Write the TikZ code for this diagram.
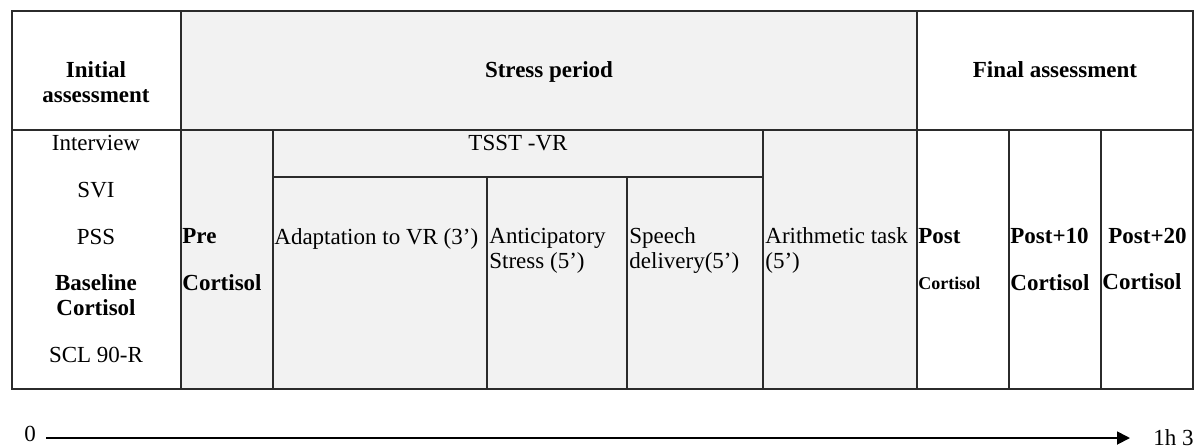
\documentclass[tikz,border=0pt]{standalone}
\usepackage{fontspec}
\setmainfont{Liberation Serif}
\usetikzlibrary{arrows.meta}
\definecolor{stressgray}{HTML}{F2F2F2}
\definecolor{gridline}{HTML}{2B2B2B}

\begin{document}
\fontsize{11.5}{12.5}\selectfont
\begin{tikzpicture}[x=0.5pt, y=-0.5pt,
  txt/.style={inner sep=0pt, anchor=base west, align=left},
  ctr/.style={inner sep=0pt, anchor=base, align=center},
  bold/.style={font=\bfseries},
  rule/.style={draw=gridline, line width=0.55pt}]
  \useasboundingbox[fill=white] (0,0) rectangle (1194,447);
  % stress period shading
  \fill[stressgray] (181,11) rectangle (917,389);
  % table rules
  \draw[rule] (12,11) rectangle (1193,389);
  \draw[rule] (12,130) -- (1193,130);
  \draw[rule] (181,11) -- (181,389) (917,11) -- (917,389);
  \draw[rule] (273,130) -- (273,389) (763,130) -- (763,389);
  \draw[rule] (273,177) -- (763,177);
  \draw[rule] (487,177) -- (487,389) (627,177) -- (627,389);
  \draw[rule] (1009,130) -- (1009,389) (1101,130) -- (1101,389);
  % headers (multi-line nodes sit on their last baseline)
  \node[ctr, bold] (initial) at (96,102) {Initial\\assessment};
  \node[ctr, bold] (stress) at (549,77) {Stress period};
  \node[ctr, bold] (final) at (1055,77) {Final assessment};
  % initial assessment
  \node[ctr] (interview) at (96,150) {Interview};
  \node[ctr] (svi) at (96,197) {SVI};
  \node[ctr] (pss) at (96,244) {PSS};
  \node[ctr, bold] (baseline) at (96,315) {Baseline\\Cortisol};
  \node[ctr] (scl) at (96,362) {SCL 90-R};
  % stress period
  \node[txt, bold] (pre) at (182,290) {Pre\\[11pt]Cortisol};
  \node[ctr] (tsst) at (518,150) {TSST -VR};
  \node[txt] (adapt) at (274,244) {Adaptation to VR (3’)};
  \node[txt] (anticip) at (489,268) {Anticipatory\\Stress (5’)};
  \node[txt] (speech) at (629,268) {Speech\\delivery(5’)};
  \node[txt] (arith) at (765,268) {Arithmetic task\\(5’)};
  % final assessment
  \node[txt, bold] (post) at (918,243) {Post};
  \node[txt, font=\bfseries\small] (postc) at (918,289) {Cortisol};
  \node[txt, bold] (postten) at (1010,290) {Post+10\\[11pt]Cortisol};
  \node[txt, bold] (posttwenty) at (1108,243) {Post+20};
  \node[txt, bold] (posttwentyc) at (1102,289) {Cortisol};
  % time line
  \node[ctr] (zero) at (30,441) {0};
  \node[txt] (end) at (1153,445) {1h 30};
  \coordinate (tstart) at (46,438);
  \coordinate (tend) at (1130,438);
  \draw[-{Triangle[length=6.5pt, width=6.5pt]}, line width=0.9pt] (tstart) -- (tend);
\end{tikzpicture}
\end{document}
